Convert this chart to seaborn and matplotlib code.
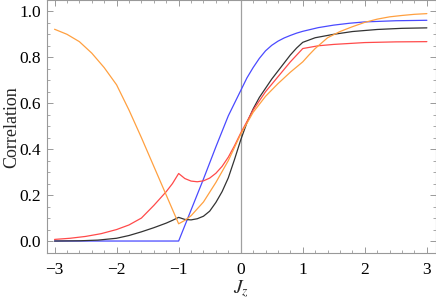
import matplotlib
matplotlib.use("Agg")
import matplotlib.pyplot as plt
from matplotlib.ticker import MultipleLocator, FuncFormatter, FormatStrFormatter
import seaborn as sns

# curves
blue_x = [-3, -1, -0.8, -0.6, -0.4, -0.2, -0.1, 0, 0.1, 0.2, 0.3, 0.4, 0.5, 0.6, 0.7, 0.8, 0.9, 1.0,
          1.25, 1.5, 1.75, 2.0, 2.5, 3.0]
blue_y = [0, 0, 0.135, 0.27, 0.41, 0.545, 0.6, 0.655, 0.71, 0.755, 0.795, 0.828, 0.852, 0.87, 0.884,
          0.895, 0.905, 0.913, 0.929, 0.94, 0.948, 0.954, 0.959, 0.961]

black_x = [-3, -2.6, -2.3, -2.0, -1.8, -1.6, -1.4, -1.2, -1.1, -1.0, -0.9, -0.8, -0.7, -0.6, -0.5, -0.4,
           -0.3, -0.2, -0.1, 0, 0.1, 0.2, 0.3, 0.4, 0.5, 0.6, 0.7, 0.8, 0.9, 1.0, 1.2, 1.5, 1.8, 2.2, 2.6, 3.0]
black_y = [0, 0.001, 0.004, 0.012, 0.024, 0.04, 0.058, 0.078, 0.09, 0.103, 0.094, 0.092, 0.097, 0.108,
           0.13, 0.168, 0.215, 0.275, 0.355, 0.44, 0.515, 0.575, 0.625, 0.665, 0.705, 0.74, 0.775, 0.81,
           0.84, 0.865, 0.885, 0.9, 0.912, 0.921, 0.926, 0.928]

red_x = [-3, -2.75, -2.5, -2.25, -2.0, -1.8, -1.6, -1.4, -1.2, -1.1, -1.0, -0.9, -0.8, -0.7, -0.6, -0.5,
         -0.4, -0.3, -0.2, -0.1, 0, 0.2, 0.4, 0.6, 0.8, 1.0, 1.25, 1.5, 2.0, 2.5, 3.0]
red_y = [0.007, 0.012, 0.02, 0.032, 0.05, 0.07, 0.1, 0.155, 0.215, 0.25, 0.294, 0.272, 0.261, 0.258,
         0.262, 0.274, 0.295, 0.325, 0.365, 0.415, 0.47, 0.57, 0.65, 0.715, 0.78, 0.838, 0.85, 0.856,
         0.864, 0.867, 0.868]

orange_x = [-3, -2.8, -2.6, -2.4, -2.2, -2.0, -1.8, -1.6, -1.4, -1.2, -1.0, -0.9, -0.8, -0.6, -0.4, -0.2,
            0, 0.2, 0.4, 0.6, 0.8, 1.0, 1.1, 1.2, 1.4, 1.6, 1.8, 2.0, 2.2, 2.4, 2.6, 2.8, 3.0]
orange_y = [0.922, 0.9, 0.868, 0.818, 0.755, 0.68, 0.57, 0.45, 0.325, 0.2, 0.075, 0.09, 0.11, 0.17,
            0.255, 0.35, 0.465, 0.56, 0.63, 0.685, 0.735, 0.78, 0.81, 0.838, 0.885, 0.912, 0.933, 0.952,
            0.966, 0.976, 0.982, 0.987, 0.99]

sns.set_style("ticks")
plt.rcParams['font.family'] = ['Liberation Serif', 'DejaVu Serif']
plt.rcParams['mathtext.fontset'] = 'stix'

fig = plt.figure(figsize=(4.36, 3.0), dpi=100)
ax = fig.add_axes([0.108, 0.156, 0.891, 0.843])

ax.axvline(0, color='#a0a0a0', lw=0.9, zorder=1)

series = [(blue_x, blue_y, '#4a4aff'),
          (black_x, black_y, '#333333'),
          (red_x, red_y, '#ff4a4a'),
          (orange_x, orange_y, '#ffa040')]
for xs, ys, c in series:
    sns.lineplot(x=xs, y=ys, color=c, lw=0.9, sort=False, estimator=None, ax=ax)

ax.set_xlim(-3.12, 3.14)
ax.set_ylim(-0.053, 1.048)
ax.xaxis.set_major_locator(MultipleLocator(1))
ax.xaxis.set_minor_locator(MultipleLocator(0.2))
ax.yaxis.set_major_locator(MultipleLocator(0.2))
ax.yaxis.set_minor_locator(MultipleLocator(0.05))
ax.xaxis.set_major_formatter(FuncFormatter(
    lambda v, p: ('\u2212%d' % -round(v)) if v < -0.01 else '%d' % round(v)))
ax.yaxis.set_major_formatter(FormatStrFormatter('%.1f'))

ax.tick_params(which='both', direction='in', top=True, right=True, color='#999999',
               labelsize=12.5, labelcolor='black')
ax.tick_params(axis='x', pad=6)
ax.tick_params(axis='y', pad=4.5)
ax.tick_params(which='major', length=4, width=0.7)
ax.tick_params(which='minor', length=2.2, width=0.6)
for s in ax.spines.values():
    s.set_color('#999999')
    s.set_linewidth(0.8)

ax.set_xlabel('$J_z$', fontsize=14)
ax.set_ylabel('Correlation', fontsize=13)
ax.xaxis.set_label_coords(0.5, -0.1)
ax.yaxis.set_label_coords(-0.068, 0.5)

fig.savefig('out.png', dpi=100)
